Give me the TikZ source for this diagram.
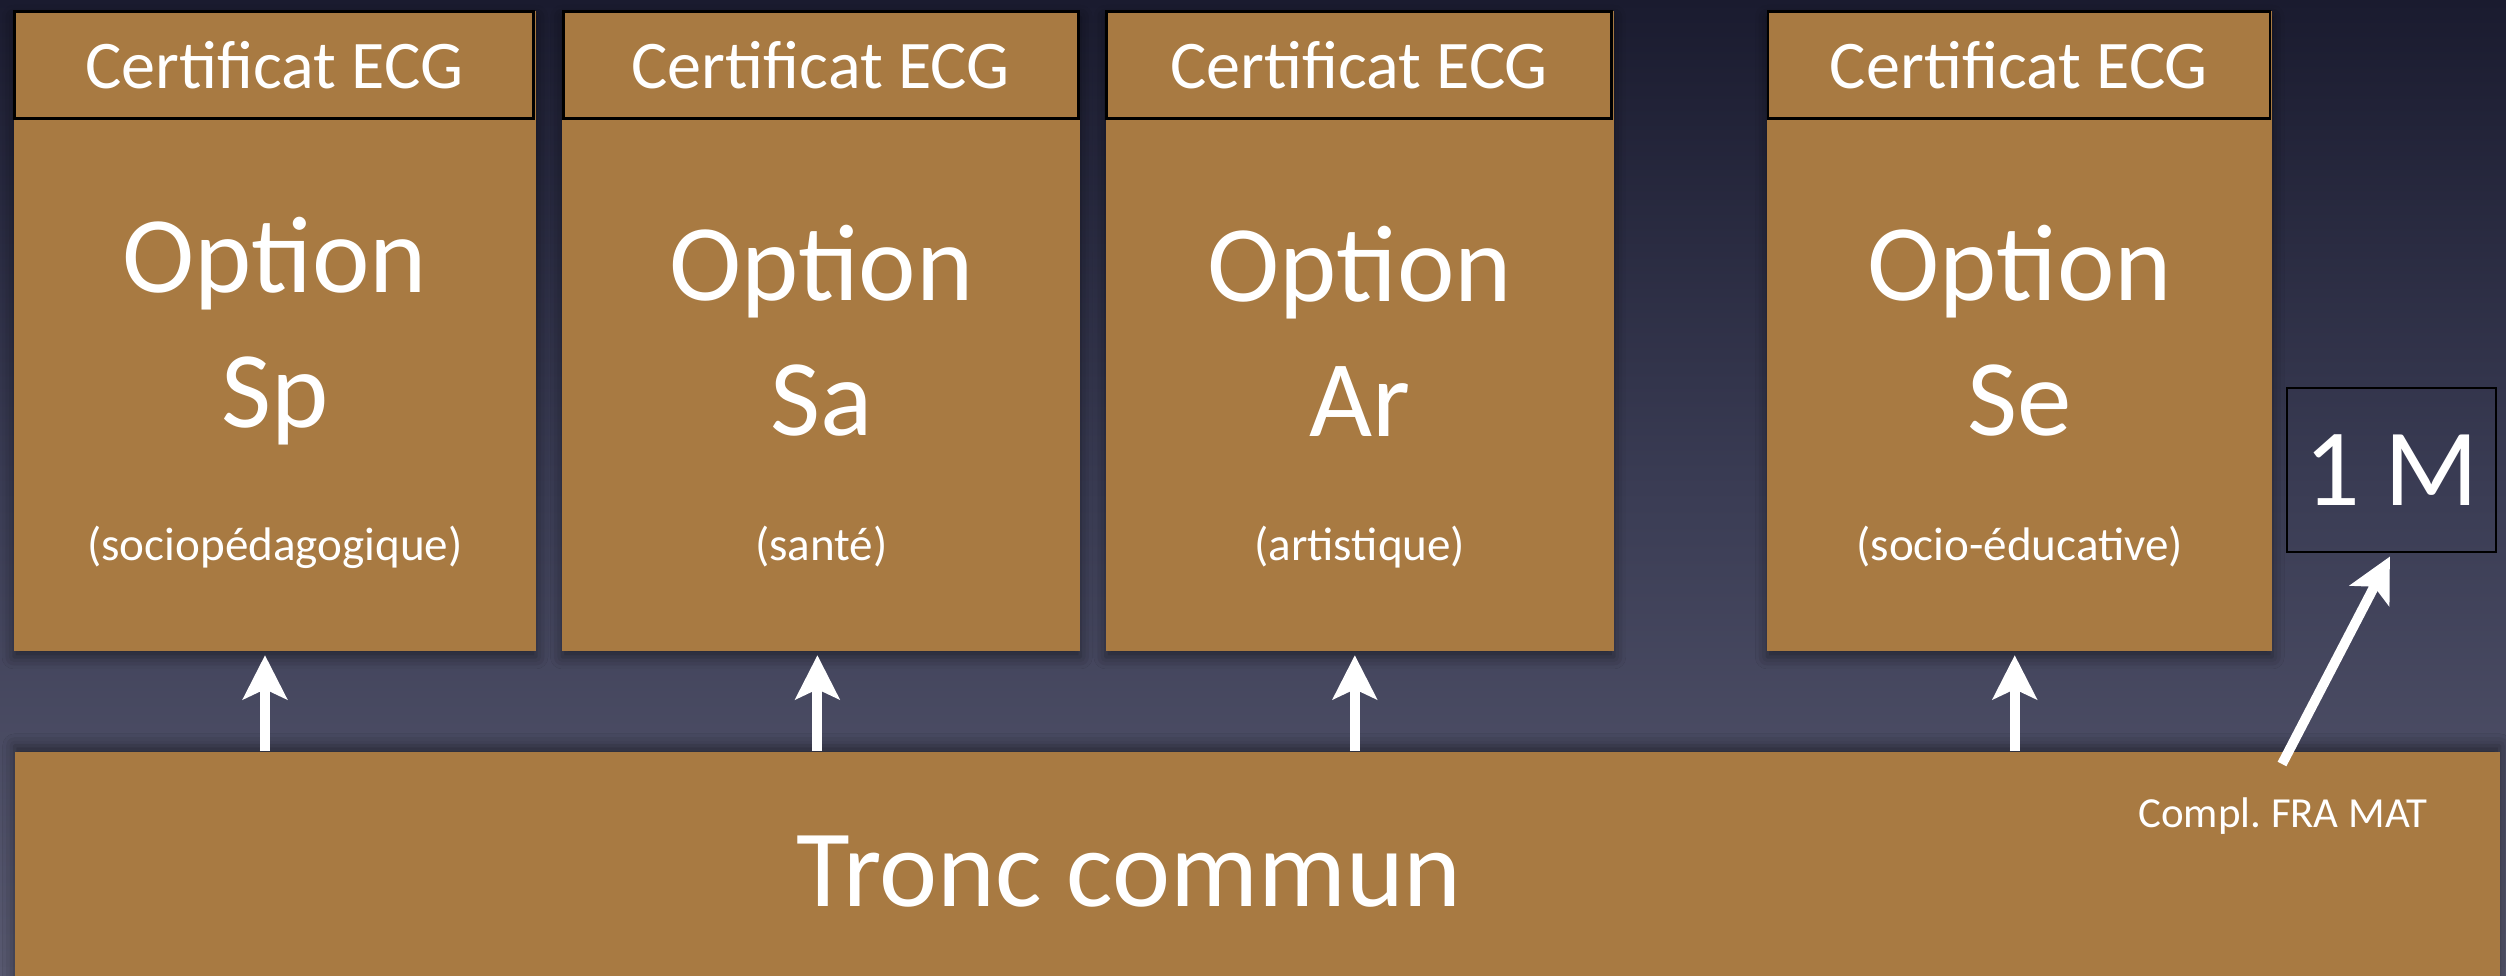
\documentclass[tikz,border=0pt]{standalone}
\usepackage{fontspec}
\setmainfont{Carlito}
\usepackage{tikz}
\usetikzlibrary{positioning}
\usetikzlibrary{arrows.meta}
\usetikzlibrary{shadows.blur}

\definecolor{ocre}{RGB}{168,122,66}
\definecolor{nighttop}{RGB}{26,27,47}
\definecolor{nightmid}{RGB}{58,60,84}
\definecolor{nightbot}{RGB}{88,89,112}

\begin{document}
\begin{tikzpicture}[>={Stealth[length=4.4mm,width=4.4mm,inset=1mm]},shorten >=1pt,
	every node/.style={text=white,inner sep=0pt},
	opt node/.style={rectangle,fill=ocre,minimum height=6.4cm,align=center,
		blur shadow={shadow xshift=0mm,shadow yshift=-0.6mm,shadow blur radius=1.2mm,shadow opacity=45},
		font=\fontsize{31}{38.4}\selectfont},
	cert node/.style={rectangle,draw=black,line width=0.8pt,fill=ocre,minimum height=1.07cm,
		font=\fontsize{19.4}{23}\selectfont},
	sub node/.style={anchor=base,font=\fontsize{13.4}{16}\selectfont},
	big node/.style={font=\fontsize{31.3}{38}\selectfont},
	up arrow/.style={->,white,line width=2.8pt}]
	
	\useasboundingbox (0,0) rectangle (25.06,9.75);
	\fill[top color=nighttop,bottom color=nightbot,middle color=nightmid] (0,0) rectangle (25.06,9.75);
	
	\node[rectangle,fill=ocre,minimum width=24.85cm,minimum height=2.5cm,anchor=north west,
		blur shadow={shadow xshift=0mm,shadow yshift=0.6mm,shadow blur radius=1.2mm,shadow opacity=45}]
		(tronc) at (0.14,2.24) {};
	\node[big node,anchor=base] (tronctext) at (11.29,0.69) {Tronc commun};
	
	\node[opt node,minimum width=5.22cm] (sp) at (2.75,6.44) {Option\\Sp};
	\node[opt node,minimum width=5.18cm] (sa) [right=0.25cm of sp] {Option\\Sa};
	\node[opt node,minimum width=5.08cm] (ar) [right=0.24cm of sa] {Option\\Ar};
	\node[opt node,minimum width=5.05cm] (se) [right=1.52cm of ar] {Option\\Se};
	
	\node[cert node,minimum width=5.19cm,anchor=north west] (sphead) at (sp.north west) {Certificat ECG};
	\node[cert node,minimum width=5.15cm,anchor=north west] (sahead) at (sa.north west) {Certificat ECG};
	\node[cert node,minimum width=5.05cm,anchor=north west] (arhead) at (ar.north west) {Certificat ECG};
	\node[cert node,minimum width=5.02cm,anchor=north west] (sehead) at (se.north west) {Certificat ECG};
	
	\node[sub node] (spsub) at ([yshift=0.91cm]sp.south) {(sociopédagogique)};
	\node[sub node] (sasub) at ([yshift=0.91cm]sa.south) {(santé)};
	\node[sub node] (arsub) at ([yshift=0.91cm]ar.south) {(artistique)};
	\node[sub node] (sesub) at ([yshift=0.91cm]se.south) {(socio-éducative)};
	
	\node[big node,draw=black,line width=0.8pt,minimum width=2.09cm,minimum height=1.64cm] (onem) at (23.915,5.05) {1 M};
	\node[anchor=base,font=\fontsize{12.2}{14}\selectfont] (compl) at (22.83,1.48) {Compl.\ FRA MAT};
	\coordinate (complend) at (22.82,2.11);
	
	\draw[up arrow] ([xshift=-0.1cm]sp.south |- tronc.north) -- ([xshift=-0.1cm]sp.south);
	\draw[up arrow] ([xshift=-0.04cm]sa.south |- tronc.north) -- ([xshift=-0.04cm]sa.south);
	\draw[up arrow] ([xshift=-0.05cm]ar.south |- tronc.north) -- ([xshift=-0.05cm]ar.south);
	\draw[up arrow] ([xshift=-0.05cm]se.south |- tronc.north) -- ([xshift=-0.05cm]se.south);
	\draw[up arrow] (complend) -- (onem.south);
\end{tikzpicture}
\end{document}
